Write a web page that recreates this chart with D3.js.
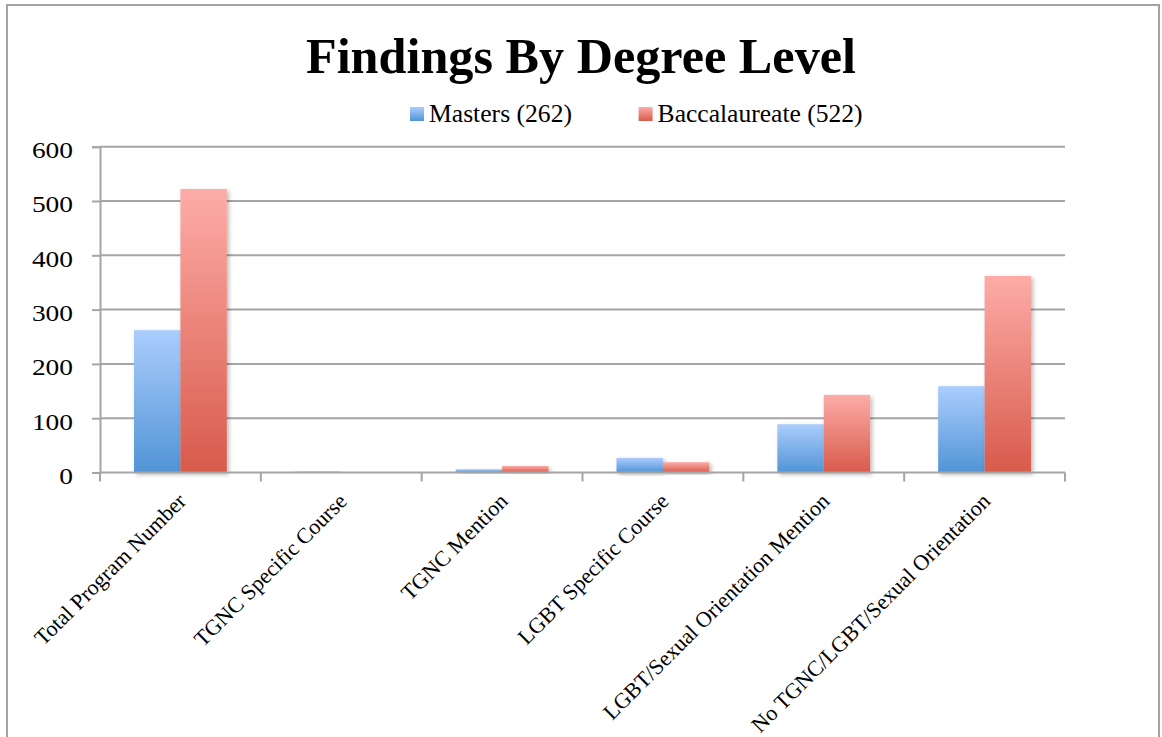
<!DOCTYPE html>
<html>
<head>
<meta charset="utf-8">
<script src="https://cdn.jsdelivr.net/npm/d3@7"></script>
<style>
  body { margin: 0; background: #fff; }
  svg { display: block; }
  text { font-family: "Liberation Serif", "DejaVu Serif", serif; fill: #000; }
</style>
</head>
<body>
<svg id="chart" width="1162" height="737"></svg>
<script>
// Program counts by degree level
const categories = [
  "Total Program Number",
  "TGNC Specific Course",
  "TGNC Mention",
  "LGBT Specific Course",
  "LGBT/Sexual Orientation Mention",
  "No TGNC/LGBT/Sexual Orientation"
];
const seriesNames = ["Masters (262)", "Baccalaureate (522)"];
const masters = [262, 2, 6, 27, 89, 159];
const baccalaureate = [522, 0, 12, 19, 143, 362];
const yTicks = [0, 100, 200, 300, 400, 500, 600];
const chartTitle = "Findings By Degree Level";

const seriesValues = [masters, baccalaureate];
const gradientStops = [
  ["#abcdfd", "#5194d6"],
  ["#fdaca7", "#d85a4b"]
];

const svg = d3.select("#chart");
const plot = { left: 100, right: 1065, top: 146.7, bottom: 472.5 };

// outer frame
svg.append("rect")
  .attr("x", 7).attr("y", 5)
  .attr("width", 1152).attr("height", 760)
  .attr("fill", "#fff")
  .attr("stroke", "#a3a3a3")
  .attr("stroke-width", 2);

const defs = svg.append("defs");
gradientStops.forEach((s, i) => {
  const g = defs.append("linearGradient")
    .attr("id", "grad" + i)
    .attr("x1", 0).attr("y1", 0).attr("x2", 0).attr("y2", 1);
  g.append("stop").attr("offset", "0%").attr("stop-color", s[0]);
  g.append("stop").attr("offset", "100%").attr("stop-color", s[1]);
});
const shadow = defs.append("filter").attr("id", "barShadow")
  .attr("x", "-20%").attr("y", "-20%").attr("width", "140%").attr("height", "140%");
shadow.append("feDropShadow")
  .attr("dx", 2).attr("dy", 2).attr("stdDeviation", 2)
  .attr("flood-color", "#000").attr("flood-opacity", 0.28);

// scales
const x0 = d3.scaleBand().domain(categories).range([plot.left, plot.right]);
const x1 = d3.scaleBand().domain(seriesNames).range([0, x0.bandwidth()]).paddingOuter(0.733);
const y = d3.scaleLinear().domain([0, 600]).range([plot.bottom, plot.top]);

// title
svg.append("text")
  .attr("x", 581).attr("y", 73)
  .attr("text-anchor", "middle")
  .attr("font-weight", "bold")
  .attr("font-size", 50)
  .attr("textLength", 550)
  .attr("lengthAdjust", "spacingAndGlyphs")
  .text(chartTitle);

// legend
const legendX = [410, 638.6];
const legendTextWidth = [143, 205];
seriesNames.forEach((name, i) => {
  const g = svg.append("g").attr("transform", `translate(${legendX[i]},107)`);
  g.append("rect").attr("width", 14).attr("height", 14).attr("fill", `url(#grad${i})`);
  g.append("text")
    .attr("x", 19).attr("y", 15)
    .attr("font-size", 25)
    .attr("textLength", legendTextWidth[i])
    .attr("lengthAdjust", "spacingAndGlyphs")
    .text(name);
});

// gridlines
svg.append("g")
  .selectAll("line")
  .data(yTicks.filter(t => t > 0))
  .join("line")
  .attr("x1", plot.left).attr("x2", plot.right)
  .attr("y1", d => y(d)).attr("y2", d => y(d))
  .attr("stroke", "#a5a5a5").attr("stroke-width", 2);

// y axis
const yAxis = svg.append("g")
  .attr("transform", `translate(${plot.left},0)`)
  .call(d3.axisLeft(y).tickValues(yTicks).tickSize(8).tickPadding(19));
yAxis.select(".domain").attr("stroke", "#a5a5a5").attr("stroke-width", 2);
yAxis.selectAll(".tick line").attr("stroke", "#a5a5a5").attr("stroke-width", 2);
yAxis.selectAll(".tick text")
  .attr("font-family", "Liberation Serif")
  .attr("font-size", 24)
  .attr("dy", "0.45em")
  .attr("textLength", d => String(d).length * 13.7)
  .attr("lengthAdjust", "spacingAndGlyphs")
  .attr("fill", "#000");

// bars
const groups = svg.append("g")
  .selectAll("g")
  .data(categories)
  .join("g")
  .attr("transform", d => `translate(${x0(d)},0)`);

groups.selectAll("rect")
  .data((d, ci) => seriesNames.map((s, si) => ({ s, si, v: seriesValues[si][ci] })))
  .join("rect")
  .attr("x", d => x1(d.s))
  .attr("width", x1.bandwidth())
  .attr("y", d => y(d.v))
  .attr("height", d => y(0) - y(d.v))
  .attr("fill", d => `url(#grad${d.si})`)
  .attr("filter", "url(#barShadow)");

// x axis
const xAxis = svg.append("g")
  .attr("transform", `translate(0,${plot.bottom})`);
xAxis.append("line")
  .attr("x1", plot.left).attr("x2", plot.right)
  .attr("stroke", "#a5a5a5").attr("stroke-width", 2);
const boundaries = categories.map(c => x0(c)).concat([plot.right]);
xAxis.selectAll("line.tick")
  .data(boundaries)
  .join("line")
  .attr("class", "tick")
  .attr("x1", d => d).attr("x2", d => d)
  .attr("y1", 0).attr("y2", 9)
  .attr("stroke", "#a5a5a5").attr("stroke-width", 2);

xAxis.selectAll("text")
  .data(categories)
  .join("text")
  .attr("text-anchor", "end")
  .attr("font-size", 22)
  .attr("transform", d => `translate(${x0(d) + x0.bandwidth() / 2 + 7},${30}) rotate(-45)`)
  .text(d => d);
</script>
</body>
</html>
